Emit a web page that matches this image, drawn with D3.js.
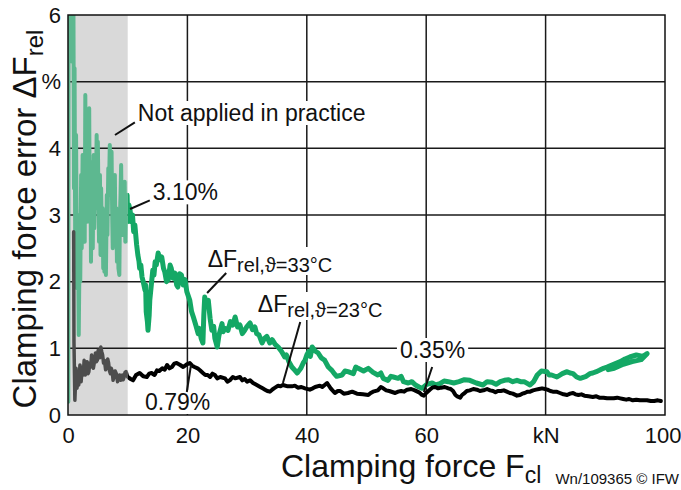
<!DOCTYPE html>
<html>
<head>
<meta charset="utf-8">
<script src="https://cdn.jsdelivr.net/npm/d3@7"></script>
<style>
  html, body { margin: 0; padding: 0; background: #fff; }
  svg { display: block; font-family: "Liberation Sans", Arial, sans-serif; }
</style>
</head>
<body>
<svg id="chart" width="681" height="490"></svg>
<script>
// ---------- data ----------
const xTickValues = [0, 20, 40, 60, 80, 100];
const xTickLabels = ["0", "20", "40", "60", "kN", "100"];
const yTickValues = [0, 1, 2, 3, 4, 5, 6];
const yTickLabels = ["0", "1", "2", "3", "4", "%", "6"];
const notAppliedRange = [0, 10];

// ΔF_rel at ϑ = 33 °C  [clamping force kN, error %]
const series33 = [
  [0.05,0.2],[0.1,6.5],[0.3,5.6],[0.5,6.5],[0.7,5.3],[0.9,6.5],[1.0,3.4],[1.1,5.2],[1.2,2.7],[1.35,4.2],
  [1.5,1.9],[1.65,3.0],[1.8,1.2],[1.95,2.6],[2.05,2.0],[2.2,3.6],[2.3,2.5],[2.45,3.9],[2.55,2.7],[2.7,3.4],
  [2.8,2.6],[2.9,4.8],[3.0,3.3],[3.1,4.2],[3.2,2.9],[3.35,4.4],[3.45,3.6],[3.55,4.6],[3.65,2.9],[3.75,3.8],
  [3.85,2.3],[3.95,3.2],[4.05,3.6],[4.15,2.5],[4.3,3.9],[4.4,2.8],[4.55,3.7],[4.65,3.2],[4.8,4.2],[4.9,3.1],
  [5.0,4.1],[5.1,3.3],[5.2,2.6],[5.35,3.6],[5.45,2.4],[5.55,3.4],[5.7,2.4],[5.8,3.1],[5.9,2.2],[6.0,2.9],
  [6.1,2.15],[6.25,3.0],[6.35,2.1],[6.5,3.3],[6.6,2.7],[6.75,3.7],[6.85,3.3],[7.0,4.05],[7.15,3.4],[7.3,3.95],
  [7.4,3.0],[7.5,2.5],[7.6,3.5],[7.7,2.9],[7.85,3.6],[7.95,2.6],[8.1,3.1],[8.2,2.3],[8.35,2.9],[8.45,2.2],
  [8.6,2.1],[8.7,3.0],[8.8,3.3],[8.9,3.75],[9.0,2.9],[9.1,3.5],[9.2,2.7],[9.3,3.4],[9.4,2.8],[9.5,3.5],
  [9.6,2.6],[9.7,3.3],[9.8,2.9],[9.9,3.3],[10.0,2.9],[10.2,3.15],[10.4,3.07],
  [10.6,2.9],[10.8,3.0],[11.0,2.75],[11.2,2.85],[11.5,2.55],[11.7,2.4],[11.9,2.3],[12.0,2.2],[12.2,2.25],[12.4,2.07],
  [12.6,2.0],[12.9,1.87],[13.0,1.95],[13.1,1.55],[13.3,1.4],[13.4,1.27],[13.6,1.5],[13.7,1.72],[13.9,1.9],[14.2,2.17],
  [14.4,2.1],[14.6,2.3],[14.8,2.25],[15.1,2.43],[15.4,2.33],[15.7,2.37],[16.0,2.2],[16.2,2.15],[16.5,2.0],[16.8,2.03],
  [17.1,2.25],[17.3,2.2],[17.6,2.05],[17.9,2.13],[18.2,1.95],[18.4,1.92],[18.7,2.12],[19.0,2.1],[19.3,1.95],[19.6,2.03],
  [19.9,1.85],[20.4,1.72],[20.7,1.55],[21.0,1.47],[21.4,1.35],[21.8,1.22],[22.0,1.3],[22.3,1.15],[22.6,1.08],[22.75,1.5],
  [22.9,1.77],[23.2,1.65],[23.5,1.72],[23.8,1.45],[24.1,1.27],[24.4,1.33],[24.6,1.15],[25.0,1.02],[25.3,1.2],[25.8,1.37],
  [26.0,1.25],[26.3,1.3],[26.8,1.27],[27.2,1.4],[27.6,1.35],[28.0,1.47],[28.4,1.32],[28.8,1.35],[29.2,1.22],[29.6,1.27],
  [30.0,1.33],[30.5,1.38],[30.9,1.28],[31.3,1.32],[31.6,1.22],[32.0,1.2],[32.5,1.08],[32.9,1.15],[33.3,1.18],[33.8,1.08],
  [34.2,1.13],[34.7,1.06],[35.2,1.02],[35.8,0.95],[36.3,0.87],[36.6,0.9],[37.0,0.8],[37.5,0.72],[37.9,0.68],[38.4,0.63],
  [39.0,0.7],[39.4,0.78],[39.7,0.82],[40.0,0.9],[40.3,0.95],[40.6,0.88],[40.9,1.02],[41.4,0.96],[41.9,0.93],[42.4,0.86],
  [43.0,0.82],[43.6,0.72],[44.2,0.67],[44.6,0.62],[45.0,0.58],[45.9,0.6],[46.4,0.66],[46.9,0.65],[47.8,0.62],[48.2,0.72],
  [48.6,0.70],[49.5,0.66],[50.3,0.70],[51.1,0.64],[51.9,0.60],[52.4,0.63],[52.8,0.55],[53.6,0.52],[54.1,0.58],[54.5,0.57],
  [55.3,0.55],[55.8,0.58],[56.2,0.5],[57.0,0.48],[57.6,0.5],[58.2,0.45],[58.8,0.42],[59.3,0.40],[60.1,0.46],[61.0,0.48],
  [61.6,0.45],[62.3,0.47],[63.0,0.51],[63.7,0.50],[64.6,0.48],[65.5,0.5],[66.4,0.53],[67.3,0.52],[68.4,0.48],
  [69.5,0.45],[70.2,0.5],[71.0,0.49],[71.7,0.46],[72.4,0.50],[73.1,0.52],[73.8,0.53],[74.5,0.5],[75.2,0.52],[75.8,0.5],
  [76.4,0.5],[77.0,0.47],[77.4,0.45],[78.0,0.5],[78.6,0.60],[79.3,0.66],[80.2,0.65],[80.6,0.6],[81.0,0.6],[81.9,0.57],
  [82.8,0.62],[83.6,0.65],[84.1,0.63],[84.6,0.62],[85.2,0.57],[85.8,0.55],[86.8,0.58],[87.4,0.62],[87.9,0.63],[88.5,0.65],
  [89.0,0.67],[89.7,0.70],[90.3,0.72],[91.4,0.76],[92.5,0.80],[93.3,0.84],[94.1,0.87],[95.2,0.9],[96.3,0.88],
  [97.0,0.92],[96.0,0.83],[94.5,0.80],[93.0,0.76],[91.5,0.70],[90.5,0.68]
];

// ΔF_rel at ϑ = 23 °C  [clamping force kN, error %]
const series23 = [
  [0.95,2.75],[1.0,1.1],[1.15,0.22],[1.35,0.7],[1.5,0.4],[1.7,0.55],[1.8,0.45],[2.0,0.75],
  [2.2,0.5],[2.4,0.72],[2.55,0.6],[2.7,0.82],[2.9,0.6],[3.05,0.72],[3.2,0.8],[3.35,0.62],[3.5,0.65],[3.65,0.78],
  [3.8,0.72],[3.95,0.9],[4.1,0.85],[4.25,0.7],[4.4,0.78],[4.6,0.93],[4.75,0.8],[4.9,0.82],[5.05,0.97],[5.2,0.95],
  [5.35,0.86],[5.5,1.02],[5.65,0.95],[5.8,0.9],[5.95,0.78],[6.1,0.82],[6.3,0.68],[6.5,0.72],[6.65,0.84],[6.8,0.78],
  [6.95,0.66],[7.1,0.62],[7.25,0.7],[7.4,0.66],[7.55,0.52],[7.7,0.57],[7.9,0.66],[8.1,0.62],[8.3,0.5],[8.5,0.55],
  [8.65,0.6],[8.8,0.52],[8.95,0.58],[9.1,0.6],[9.25,0.53],[9.4,0.57],[9.55,0.64],[9.7,0.65],[9.85,0.6],[10.0,0.57],
  [10.5,0.54],[10.9,0.52],[11.4,0.6],[12.0,0.63],[12.6,0.58],[13.2,0.57],[13.6,0.62],[14.0,0.63],[14.5,0.6],[14.9,0.67],
  [15.3,0.66],[15.8,0.7],[16.2,0.68],[16.6,0.75],[17.0,0.7],[17.4,0.72],[17.8,0.77],[18.2,0.78],[18.8,0.75],[19.3,0.72],
  [19.9,0.76],[20.4,0.78],[20.8,0.74],[21.2,0.72],[21.7,0.7],[22.1,0.67],[22.6,0.63],[23.0,0.6],[23.4,0.6],[23.8,0.57],
  [24.2,0.62],[24.6,0.6],[25.0,0.55],[25.5,0.57],[26.3,0.55],[26.7,0.5],[27.1,0.52],[27.6,0.57],[28.0,0.55],[28.8,0.57],
  [29.2,0.52],[29.6,0.54],[30.0,0.5],[30.5,0.52],[31.0,0.48],[31.4,0.46],[32.2,0.42],[32.6,0.4],[33.0,0.38],[33.4,0.36],
  [33.8,0.35],[34.2,0.38],[34.5,0.4],[35.2,0.44],[35.6,0.43],[36.0,0.45],[36.8,0.43],[37.5,0.43],[38.0,0.44],[38.5,0.41],
  [39.1,0.42],[39.7,0.40],[40.5,0.38],[41.0,0.4],[41.4,0.42],[42.2,0.44],[42.6,0.42],[43.0,0.45],[43.4,0.48],[44.0,0.40],
  [44.7,0.33],[45.2,0.36],[45.6,0.36],[46.2,0.32],[46.9,0.33],[47.6,0.35],[48.4,0.32],[49.4,0.31],[50.3,0.30],[50.7,0.33],
  [51.1,0.35],[51.9,0.37],[52.4,0.42],[52.8,0.40],[53.3,0.37],[53.8,0.36],[54.8,0.33],[55.3,0.35],[55.8,0.36],[56.3,0.35],
  [56.8,0.38],[57.5,0.39],[58.1,0.37],[58.8,0.34],[59.3,0.30],[59.6,0.29],[60.0,0.33],[60.6,0.38],[61.0,0.41],[61.5,0.42],
  [62.0,0.4],[62.5,0.41],[63.1,0.42],[63.7,0.40],[64.1,0.39],[64.5,0.36],[64.9,0.3],[65.2,0.28],[65.7,0.26],[66.0,0.3],
  [66.3,0.32],[66.8,0.36],[67.3,0.37],[67.9,0.39],[68.5,0.38],[69.0,0.36],[69.6,0.37],[70.2,0.39],[70.7,0.37],[71.2,0.36],
  [71.6,0.34],[72.0,0.36],[72.5,0.36],[73.0,0.37],[73.5,0.35],[74.0,0.33],[74.5,0.32],[75.2,0.29],[75.7,0.30],[76.1,0.32],
  [76.5,0.33],[77.0,0.35],[77.4,0.35],[77.9,0.37],[78.4,0.38],[78.9,0.39],[79.4,0.40],[79.9,0.39],[80.3,0.38],[80.8,0.36],
  [81.2,0.35],[81.8,0.35],[82.4,0.33],[83.0,0.31],[83.6,0.30],[84.1,0.32],[84.6,0.33],[85.0,0.31],[85.5,0.30],[86.0,0.31],
  [86.5,0.29],[87.2,0.28],[87.9,0.27],[88.5,0.28],[89.0,0.26],[89.7,0.26],[90.3,0.25],[91.4,0.25],[92.0,0.26],[92.5,0.25],
  [93.0,0.24],[93.5,0.23],[94.0,0.24],[94.6,0.22],[95.2,0.23],[95.8,0.22],[96.4,0.22],[97.0,0.22],[97.6,0.21],[98.2,0.21],
  [98.8,0.22],[99.3,0.21]
];

// annotation texts with their anchor (data coords) and leader lines (data coords)
const annotationTexts = ["Not applied in practice", "3.10%", "ΔF|rel,ϑ=33°C", "ΔF|rel,ϑ=23°C", "0.35%", "0.79%"];
const annotationAnchors = [[11.7, 4.41], [14.2, 3.22], [23.4, 2.22], [31.8, 1.545], [55.6, 0.855], [12.9, 0.075]];
const annotationLeaders = [
  [[7.87, 4.2], [11.2, 4.39]],
  [[10.4, 3.09], [13.7, 3.22]],
  [[23.3, 1.83], [26.5, 2.13]],
  [[38.9, 1.395], [36.0, 0.48]],
  [[61.0, 0.72], [59.6, 0.345]],
  [[19.9, 0.345], [20.6, 0.75]]
];

// ---------- layout ----------
const W = 681, H = 490;
const m = { left: 68, right: 16, top: 15, bottom: 75 };
const svg = d3.select("#chart");
const x = d3.scaleLinear().domain([0, 100]).range([m.left, W - m.right]);
const y = d3.scaleLinear().domain([0, 6]).range([H - m.bottom, m.top]);

const GREEN = "#14a865", GREEN_LIGHT = "#5db890", BLACK = "#000", GRAY_LINE = "#4d4d4d";

svg.append("defs").call(d => {
  d.append("clipPath").attr("id", "plot").append("rect")
    .attr("x", x(0)).attr("y", y(6)).attr("width", x(100) - x(0)).attr("height", y(0) - y(6));
  d.append("clipPath").attr("id", "band").append("rect")
    .attr("x", x(0)).attr("y", y(6)).attr("width", x(notAppliedRange[1]) - x(0)).attr("height", y(0) - y(6));
  d.append("clipPath").attr("id", "rest").append("rect")
    .attr("x", x(notAppliedRange[1])).attr("y", y(6)).attr("width", x(100) - x(notAppliedRange[1])).attr("height", y(0) - y(6));
});

// gray band
svg.append("rect")
  .attr("x", x(notAppliedRange[0])).attr("y", y(6))
  .attr("width", x(notAppliedRange[1]) - x(notAppliedRange[0]))
  .attr("height", y(0) - y(6))
  .attr("fill", "#d9d9d9");

// grid
const grid = svg.append("g").attr("stroke", "#1a1a1a").attr("stroke-width", 1.5);
grid.selectAll(".vg").data(xTickValues.slice(1, -1)).join("line")
  .attr("x1", d => x(d)).attr("x2", d => x(d)).attr("y1", y(0)).attr("y2", y(6));
grid.selectAll(".hg").data(yTickValues.slice(1, -1)).join("line")
  .attr("x1", x(0)).attr("x2", x(100)).attr("y1", d => y(d)).attr("y2", d => y(d));

// lines
const line = d3.line().x(d => x(d[0])).y(d => y(d[1]));
const lines = svg.append("g").attr("clip-path", "url(#plot)").attr("fill", "none")
  .attr("stroke-linejoin", "round").attr("stroke-linecap", "round");
lines.append("path").datum(series33).attr("d", line).attr("clip-path", "url(#band)")
  .attr("stroke", GREEN_LIGHT).attr("stroke-width", 4);
lines.append("path").datum(series33).attr("d", line).attr("clip-path", "url(#rest)")
  .attr("stroke", GREEN).attr("stroke-width", 5);
lines.append("path").datum(series23).attr("d", line).attr("clip-path", "url(#band)")
  .attr("stroke", GRAY_LINE).attr("stroke-width", 3.5);
lines.append("path").datum(series23).attr("d", line).attr("clip-path", "url(#rest)")
  .attr("stroke", BLACK).attr("stroke-width", 4);

// frame
svg.append("rect").attr("x", x(0)).attr("y", y(6)).attr("width", x(100) - x(0)).attr("height", y(0) - y(6))
  .attr("fill", "none").attr("stroke", "#111").attr("stroke-width", 1.5);

// axes (tick labels only)
const xAxis = d3.axisBottom(x).tickValues(xTickValues).tickSize(0).tickPadding(12)
  .tickFormat((d, i) => xTickLabels[i]);
const gx = svg.append("g").attr("transform", `translate(0,${y(0)})`).call(xAxis);
gx.select(".domain").remove();
gx.selectAll("text").attr("font-size", 22).attr("fill", "#111").attr("font-family", "Liberation Sans, Arial, sans-serif");
gx.selectAll("text").filter((d, i) => i === xTickValues.length - 1).attr("text-anchor", "end").attr("dx", 16);

const yAxis = d3.axisLeft(y).tickValues(yTickValues).tickSize(0).tickPadding(7)
  .tickFormat((d, i) => yTickLabels[i]);
const gy = svg.append("g").attr("transform", `translate(${x(0)},0)`).call(yAxis);
gy.select(".domain").remove();
gy.selectAll("text").attr("font-size", 22).attr("fill", "#111").attr("font-family", "Liberation Sans, Arial, sans-serif");

// axis titles
const xt = svg.append("text").attr("x", 281).attr("y", 477).attr("font-size", 32).attr("fill", "#111");
xt.append("tspan").text("Clamping force F");
xt.append("tspan").attr("font-size", 23).attr("dy", 6).text("cl");
svg.append("text").attr("x", 679).attr("y", 484).attr("text-anchor", "end")
  .attr("font-size", 15).attr("fill", "#111").text("Wn/109365 © IFW");

const yt = svg.append("text").attr("transform", `translate(36,${(y(0) + y(6)) / 2 + 4}) rotate(-90)`)
  .attr("text-anchor", "middle").attr("font-size", 33).attr("fill", "#111");
yt.append("tspan").text("Clamping force error ΔF");
yt.append("tspan").attr("font-size", 24).attr("dy", 7).text("rel");

// annotations
const ann = svg.append("g");
annotationTexts.forEach((t, i) => {
  const [ax, ay] = annotationAnchors[i];
  const g = ann.append("g");
  const txt = g.append("text").attr("x", x(ax)).attr("y", y(ay)).attr("font-size", 23).attr("fill", "#111");
  const parts = t.split("|");
  txt.append("tspan").text(parts[0]);
  if (parts[1]) txt.append("tspan").attr("font-size", 20).attr("dy", 5).text(parts[1]);
  const bb = txt.node().getBBox();
  g.insert("rect", "text").attr("x", bb.x - 3).attr("y", bb.y + 1).attr("width", bb.width + 6).attr("height", bb.height - 2)
    .attr("fill", "#fff");
  const [p0, p1] = annotationLeaders[i];
  ann.append("line").attr("x1", x(p0[0])).attr("y1", y(p0[1])).attr("x2", x(p1[0])).attr("y2", y(p1[1]))
    .attr("stroke", "#111").attr("stroke-width", 2);
});
</script>
</body>
</html>
